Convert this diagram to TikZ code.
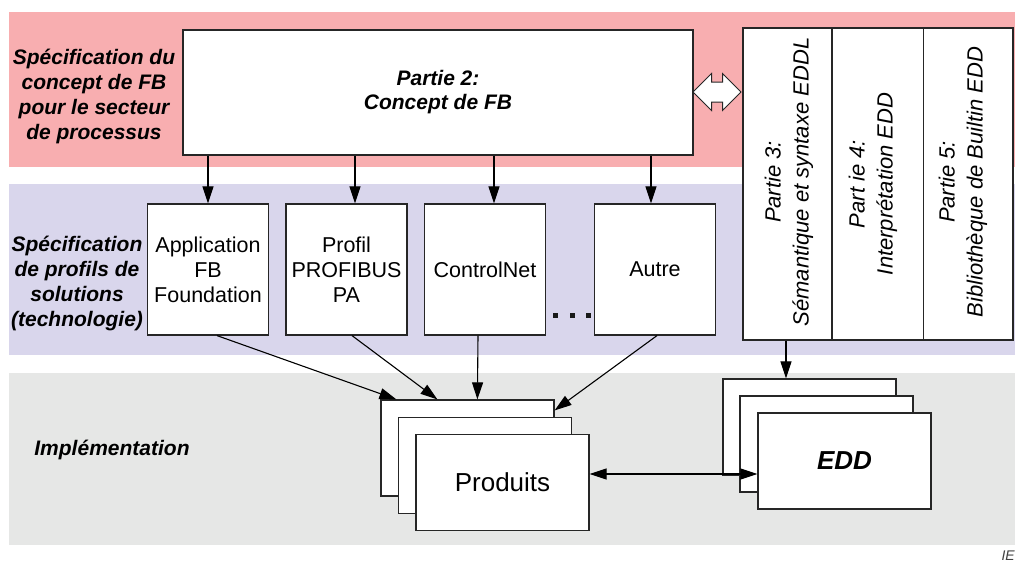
\documentclass[tikz,border=0pt]{standalone}
\usepackage{fontspec}
\setmainfont{Liberation Sans}
\usetikzlibrary{arrows.meta,shapes.arrows,calc}
\tikzset{>={Triangle[length=17pt,width=11pt]}}

\definecolor{bandrose}{RGB}{248,174,176}
\definecolor{bandlilas}{RGB}{217,214,236}
\definecolor{bandgris}{RGB}{230,231,230}

\begin{document}
\begin{tikzpicture}[x=1pt,y=-1pt,
  bloc/.style={draw=black!85,line width=1.2pt,fill=white,inner sep=0pt},
  techno/.style={bloc,minimum width=121,minimum height=131,align=center,font=\fontsize{21.5}{25}\selectfont},
  pile/.style={bloc,minimum width=173,minimum height=96},
  niveau/.style={align=center,font=\fontsize{21}{25}\selectfont\bfseries\itshape},
  partie/.style={rotate=90,align=center,font=\fontsize{22}{28}\selectfont\itshape},
  fleche/.style={->,line width=1.1pt}]
\useasboundingbox (0,0) rectangle (1015,563);

% bandes de fond
\fill[bandrose] (9,12) rectangle (1015,167);
\fill[bandlilas] (9,184) rectangle (1015,355);
\fill[bandgris] (9,373) rectangle (1015,545);

% titres des niveaux
\node[niveau] (niv1) at (94,96) {Spécification du\\concept de FB\\pour le secteur\\de processus};
\node[niveau] (niv2) at (77,283) {Spécification\\de profils de\\solutions\\(technologie)};
\node[niveau] (niv3) at (112,450) {Implémentation};

% concept FB
\node[bloc,minimum width=510,minimum height=125,align=center,
  font=\fontsize{21}{24}\selectfont\bfseries\itshape] (p2) at (438,92.5) {Partie 2:\\Concept de FB};

% parties EDDL
\node[bloc,minimum width=270,minimum height=312] (parts) at (878,184) {};
\draw[draw=black!85,line width=1.2pt] ($(parts.north west)!0.33!(parts.north east)$) -- ($(parts.south west)!0.33!(parts.south east)$);
\draw[draw=black!85,line width=1.2pt] ($(parts.north west)!0.667!(parts.north east)$) -- ($(parts.south west)!0.667!(parts.south east)$);
\node[partie] (p3) at (789,182) {Partie 3:\\Sémantique et syntaxe EDDL};
\node[partie] (p4) at (873,184) {Part ie 4:\\Interprétation EDD};
\node[partie] (p5) at (963,182) {Partie 5:\\Bibliothèque de Builtin EDD};

\node[double arrow,draw=black!85,line width=1pt,fill=white,minimum height=48,
  double arrow head extend=8.5,inner xsep=0pt,inner ysep=9.5pt,
  text height=0pt,text depth=0pt] (lien) at (717,92) {};

% profils technologiques
\node[techno] (app) at (208,269.5) {Application\\FB\\Foundation};
\node[techno] (profil) at (346.5,269.5) {Profil\\PROFIBUS\\PA};
\node[techno] (ctrl) at (485,269.5) {ControlNet};
\node[techno] (autre) at (655,269.5) {Autre};
\foreach \x in {555,572,588}
  \fill[black!90] (\x-2.5,312.5) rectangle ++(5,5);

% piles de produits et EDD
\node[pile] (prod1) at (467.5,448) {};
\node[pile] (prod2) at (485,465.5) {};
\node[pile,font=\fontsize{26}{30}\selectfont] (prod3) at (502.5,482.5) {Produits};
\node[pile] (edd1) at (809.5,427) {};
\node[pile] (edd2) at (826.5,444) {};
\node[pile,font=\fontsize{26}{30}\selectfont\bfseries\itshape] (edd3) at (844.5,461) {EDD};

% points d'entree des fleches
\coordinate (inProfil) at ([xshift=8.5]profil.north);
\coordinate (inCtrl) at ([xshift=9]ctrl.north);
\coordinate (inAutre) at ([xshift=-4]autre.north);
\coordinate (outParts) at ([xshift=-92]parts.south);

% fleches
\draw[fleche] (p2.south -| app.north) -- (app.north);
\draw[fleche] (p2.south -| inProfil) -- (inProfil);
\draw[fleche] (p2.south -| inCtrl) -- (inCtrl);
\draw[fleche] (p2.south -| inAutre) -- (inAutre);

\draw[fleche] ([xshift=9]app.south) -- ([xshift=16]prod1.north west);
\draw[fleche] ([xshift=5.5]profil.south) -- ([xshift=57]prod1.north west);
\draw[fleche] ([xshift=-7]ctrl.south) -- ([xshift=97]prod1.north west);
\draw[fleche] ([xshift=2]autre.south) -- ([yshift=-11]prod1.north east);

\draw[fleche] (outParts) -- (outParts |- edd1.north);
\draw[fleche,<->] ([yshift=8.5]prod3.east) -- ([yshift=8.5]prod3.east -| edd3.west);

\node[anchor=north east,inner sep=0pt,text=black!75,
  font=\fontsize{14}{16}\selectfont\itshape] (ref) at (1015,551) {IE};
\end{tikzpicture}
\end{document}
